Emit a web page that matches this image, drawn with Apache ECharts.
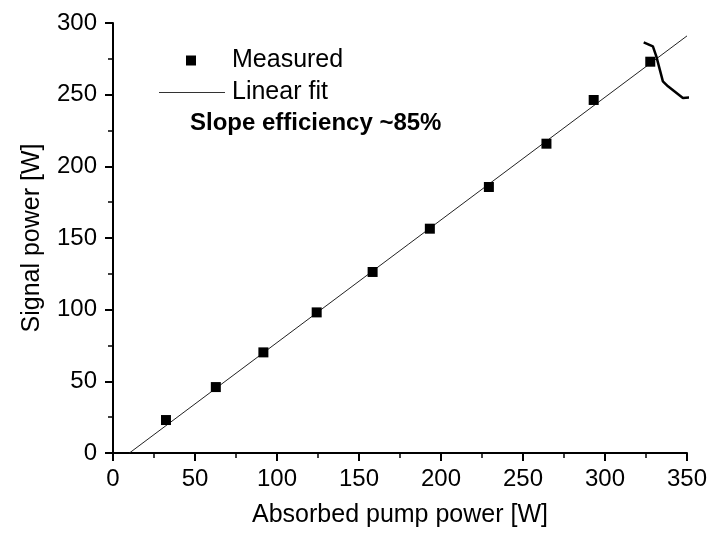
<!DOCTYPE html>
<html>
<head>
<meta charset="utf-8">
<script src="https://cdn.jsdelivr.net/npm/echarts@6/dist/echarts.min.js"></script>
<style>
  html, body { margin: 0; padding: 0; background: #fff; }
  #chart { width: 714px; height: 544px; }
</style>
</head>
<body>
<div id="chart"></div>
<script>
// measured points
const pumpPower = [32.3, 62.7, 91.7, 124.2, 158.3, 193.2, 229.2, 264.3, 293.1, 327.6];
const signalPower = [23.0, 46.0, 70.2, 98.1, 126.3, 156.5, 185.6, 215.8, 246.3, 273.0];

// linear fit end points
const fitX = [10, 350];
const fitY = [0, 291];

// pen stroke drawn over the top right of the scan
const markX = [323.6, 329.2, 331.3, 335.3, 338.4, 347.5, 354.6];
const markY = [286.5, 283.7, 276.7, 259.3, 255.8, 247.7, 248.4];

const xTicks = [0, 350, 50];
const yTicks = [0, 300, 50];

const font = "'Liberation Sans', Arial, sans-serif";

const zip = (a, b) => a.map((v, i) => [v, b[i]]);

const chart = echarts.init(document.getElementById('chart'));

chart.setOption({
  animation: false,
  backgroundColor: '#fff',
  textStyle: { fontFamily: font, color: '#000' },
  title: {
    text: 'Slope efficiency ~85%',
    left: 190,
    top: 111,
    padding: 0,
    textStyle: { fontFamily: font, fontSize: 24, fontWeight: 'bold', color: '#000' }
  },
  legend: [
    {
      data: ['Measured'],
      left: 186,
      top: 48,
      padding: 0,
      itemWidth: 10,
      itemHeight: 10,
      textStyle: { fontFamily: font, fontSize: 25, color: '#000', padding: [0, 0, 0, 31] }
    },
    {
      data: [{ name: 'Linear fit', icon: 'rect' }],
      left: 159,
      top: 80,
      padding: 0,
      itemWidth: 66,
      itemHeight: 1,
      itemStyle: { color: '#333' },
      textStyle: { fontFamily: font, fontSize: 25, color: '#000', padding: [0, 0, 0, 2] }
    }
  ],
  grid: {
    left: 113,
    right: 27,
    top: 23,
    bottom: 91
  },
  xAxis: {
    type: 'value',
    min: xTicks[0],
    max: xTicks[1],
    interval: xTicks[2],
    name: 'Absorbed pump power [W]',
    nameLocation: 'middle',
    nameGap: 50,
    nameTextStyle: { fontFamily: font, fontSize: 25, color: '#000' },
    axisLine: { show: true, onZero: false, lineStyle: { color: '#000', width: 2 } },
    axisTick: { show: true, length: 8, lineStyle: { color: '#000', width: 2 } },
    minorTick: { show: true, splitNumber: 2, length: 5, lineStyle: { color: '#000', width: 1.5 } },
    axisLabel: { fontFamily: font, fontSize: 24, color: '#000', margin: 14 },
    splitLine: { show: false }
  },
  yAxis: {
    type: 'value',
    min: yTicks[0],
    max: yTicks[1],
    interval: yTicks[2],
    name: 'Signal power [W]',
    nameLocation: 'middle',
    nameGap: 68,
    nameTextStyle: { fontFamily: font, fontSize: 25, color: '#000' },
    axisLine: { show: true, lineStyle: { color: '#000', width: 2 } },
    axisTick: { show: true, length: 8, lineStyle: { color: '#000', width: 2 } },
    minorTick: { show: true, splitNumber: 2, length: 5, lineStyle: { color: '#000', width: 1.5 } },
    axisLabel: { fontFamily: font, fontSize: 24, color: '#000', margin: 16 },
    splitLine: { show: false }
  },
  series: [
    {
      name: 'Linear fit',
      type: 'line',
      data: zip(fitX, fitY),
      symbol: 'none',
      lineStyle: { color: '#222', width: 1 },
      itemStyle: { color: '#222' },
      z: 2
    },
    {
      name: 'Measured',
      type: 'scatter',
      data: zip(pumpPower, signalPower),
      symbol: 'rect',
      symbolSize: 10,
      itemStyle: { color: '#000', opacity: 1 },
      z: 3
    },
    {
      name: 'mark',
      type: 'line',
      data: zip(markX, markY),
      symbol: 'none',
      clip: false,
      silent: true,
      lineStyle: { color: '#000', width: 2.5 },
      z: 4
    }
  ]
});
</script>
</body>
</html>
